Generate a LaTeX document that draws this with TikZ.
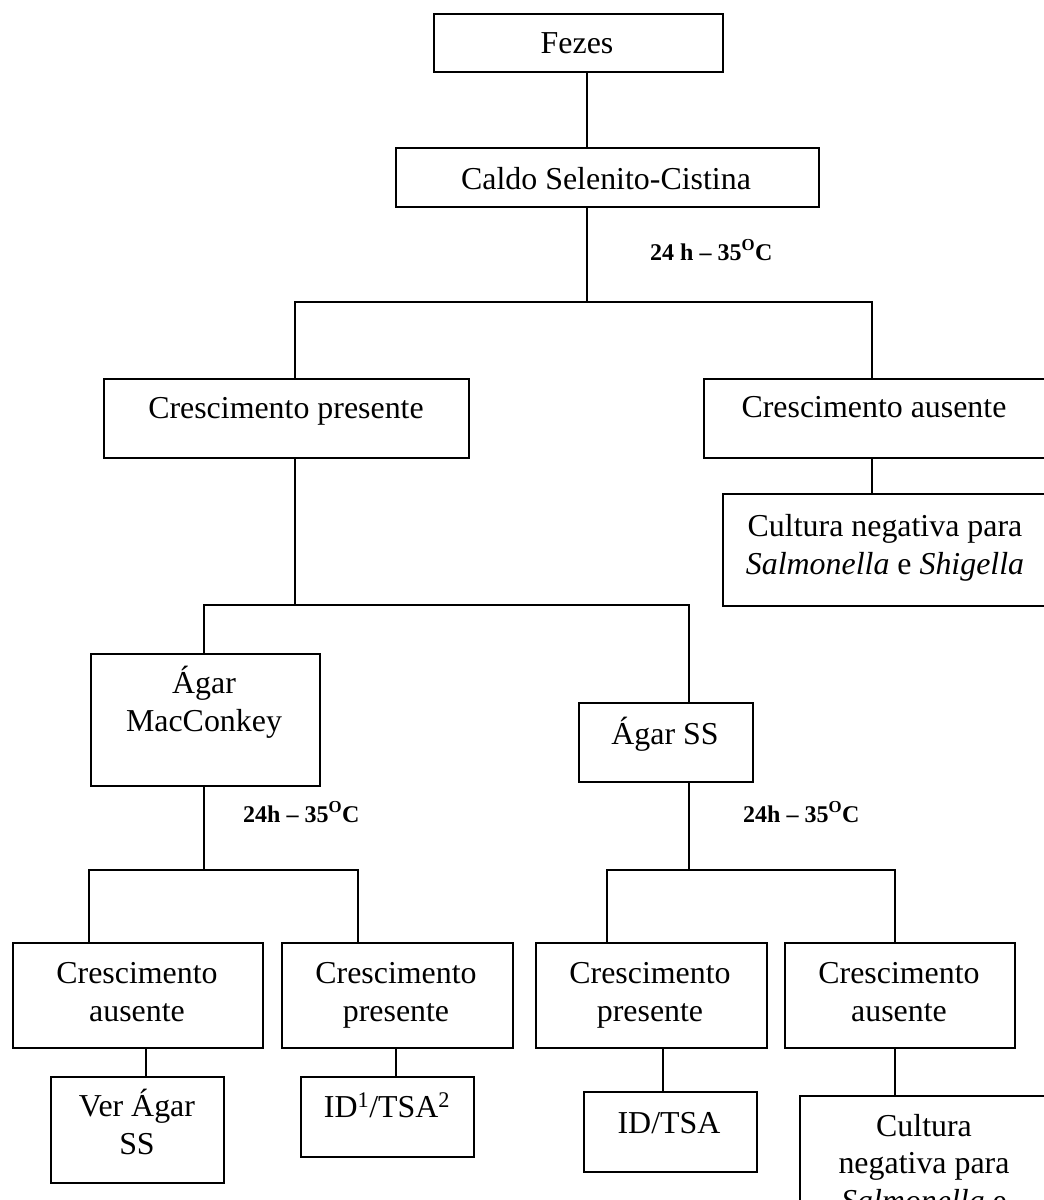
\documentclass[tikz,border=0pt]{standalone}
\usepackage{fontspec}
\setmainfont{Liberation Serif}
\begin{document}
\begin{tikzpicture}[x=1pt,y=-1pt,
  box/.style={draw, line width=1.7pt, inner sep=0pt, anchor=north west, rectangle},
  conn/.style={line width=1.7pt},
  txt/.style={inner sep=0pt, anchor=base, align=center,
    font=\fontsize{31.9pt}{37.5pt}\selectfont},
  cond/.style={inner sep=0pt, anchor=base west,
    font=\fontsize{24pt}{28pt}\selectfont\bfseries}]
\useasboundingbox (0,0) rectangle (1044,1200);
\clip (0,0) rectangle (1044,1200);

% boxes
\node[box, minimum width=289pt, minimum height=58pt]  (fezes) at (433,13)   {};
\node[box, minimum width=423pt, minimum height=59pt]  (caldo) at (395,147)  {};
\node[box, minimum width=365pt, minimum height=79pt]  (cp0)   at (103,378)  {};
\node[box, minimum width=347pt, minimum height=79pt]  (ca0)   at (703,378)  {};
\node[box, minimum width=328pt, minimum height=112pt] (cult1) at (722,493)  {};
\node[box, minimum width=229pt, minimum height=132pt] (mac)   at (90,653)   {};
\node[box, minimum width=174pt, minimum height=79pt]  (ss)    at (578,702)  {};
\node[box, minimum width=250pt, minimum height=105pt] (ca1)   at (12,942)   {};
\node[box, minimum width=231pt, minimum height=105pt] (cp1)   at (281,942)  {};
\node[box, minimum width=173pt, minimum height=106pt] (ver)   at (50,1076)  {};
\node[box, minimum width=173pt, minimum height=80pt]  (id1)   at (300,1076) {};
\node[box, minimum width=231pt, minimum height=105pt] (cp2)   at (535,942)  {};
\node[box, minimum width=230pt, minimum height=105pt] (ca2)   at (784,942)  {};
\node[box, minimum width=173pt, minimum height=80pt]  (idtsa) at (583,1091) {};
\node[box, minimum width=251pt, minimum height=140pt] (cult2) at (799,1095) {};

% box texts (anchored at the baseline of the last line)
\node[txt] (t-fezes) at (577,53)   {Fezes};
\node[txt] (t-caldo) at (606,189)  {Caldo Selenito-Cistina};
\node[txt] (t-cp0)   at (286,418)  {Crescimento presente};
\node[txt] (t-ca0)   at (874,417)  {Crescimento ausente};
\node[txt] (t-cult1) at (885,574)  {Cultura negativa para\\\textit{Salmonella} e \textit{Shigella}};
\node[txt] (t-mac)   at (204,731)  {Ágar\\MacConkey};
\node[txt] (t-ss)    at (665,744)  {Ágar SS};
\node[txt] (t-ca1)   at (137,1021) {Crescimento\\ausente};
\node[txt] (t-cp1)   at (396,1021) {Crescimento\\presente};
\node[txt] (t-ver)   at (137,1154) {Ver Ágar\\SS};
\node[txt] (t-id1)   at (387,1117) {ID\textsuperscript{1}/TSA\textsuperscript{2}};
\node[txt] (t-cp2)   at (650,1021) {Crescimento\\presente};
\node[txt] (t-ca2)   at (899,1021) {Crescimento\\ausente};
\node[txt] (t-idtsa) at (669,1133) {ID/TSA};
\node[txt] (t-cult2) at (924,1211) {Cultura\\negativa para\\\textit{Salmonella} e};

% incubation conditions
\node[cond] (c1) at (650,260) {24 h – 35\textsuperscript{O}C};
\node[cond] (c2) at (243,822) {24h – 35\textsuperscript{O}C};
\node[cond] (c3) at (743,822) {24h – 35\textsuperscript{O}C};

% branch points
\coordinate (b1l) at (295,302); \coordinate (b1m) at (587,302); \coordinate (b1r) at (872,302);
\coordinate (b2l) at (204,605); \coordinate (b2m) at (295,605); \coordinate (b2r) at (689,605);
\coordinate (b3l) at (89,870);  \coordinate (b3m) at (204,870); \coordinate (b3r) at (358,870);
\coordinate (b4l) at (607,870); \coordinate (b4m) at (689,870); \coordinate (b4r) at (895,870);
\coordinate (d1) at (146,0); \coordinate (d2) at (396,0);
\coordinate (d3) at (663,0); \coordinate (d4) at (895,0);

% connectors
\draw[conn] (fezes.south -| b1m) -- (caldo.north -| b1m);
\draw[conn] (caldo.south -| b1m) -- (b1m);
\draw[conn] (cp0.north -| b1l) -- (b1l) -- (b1r) -- (ca0.north -| b1r);
\draw[conn] (ca0.south -| b1r) -- (cult1.north -| b1r);
\draw[conn] (cp0.south -| b2m) -- (b2m);
\draw[conn] (mac.north -| b2l) -- (b2l) -- (b2r) -- (ss.north -| b2r);
\draw[conn] (mac.south -| b3m) -- (b3m);
\draw[conn] (ca1.north -| b3l) -- (b3l) -- (b3r) -- (cp1.north -| b3r);
\draw[conn] (ss.south -| b4m) -- (b4m);
\draw[conn] (cp2.north -| b4l) -- (b4l) -- (b4r) -- (ca2.north -| b4r);
\draw[conn] (ca1.south -| d1) -- (ver.north -| d1);
\draw[conn] (cp1.south -| d2) -- (id1.north -| d2);
\draw[conn] (cp2.south -| d3) -- (idtsa.north -| d3);
\draw[conn] (ca2.south -| d4) -- (cult2.north -| d4);
\end{tikzpicture}
\end{document}
